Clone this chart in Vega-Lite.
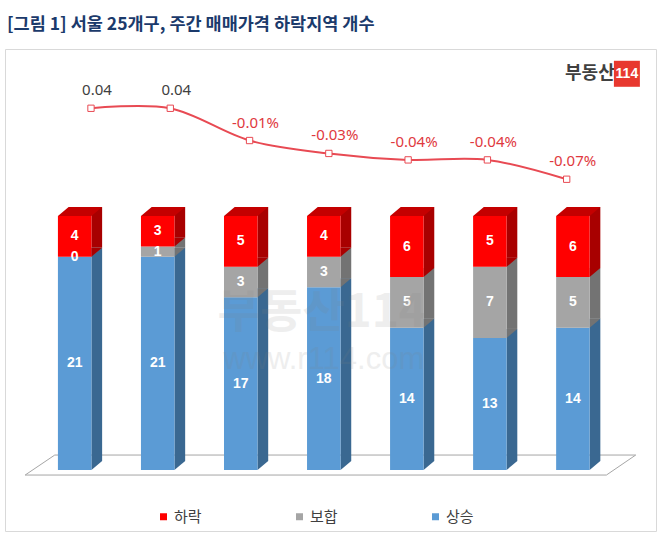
{
  "$schema": "https://vega.github.io/schema/vega-lite/v6.json",
  "width": 651,
  "height": 482,
  "autosize": {"type": "none"},
  "padding": {"left": 5, "top": 49, "right": 2, "bottom": 4},
  "background": "white",
  "config": {"view": {"stroke": "#D9D9D9", "strokeWidth": 1}, "font": "Noto Sans"},
  "title": {
    "text": "[그림 1] 서울 25개구, 주간 매매가격 하락지역 개수",
    "anchor": "start", "frame": "group", "orient": "top", "offset": 2, "dx": 2,
    "baseline": "alphabetic", "font": "Noto Sans CJK KR", "fontSize": 17.5, "fontWeight": "bold", "color": "#1B3A6B"
  },
  "datasets": {
    "counts": [
      {"date": "3/13", "series": "상승", "count": 21}, {"date": "3/13", "series": "보합", "count": 0}, {"date": "3/13", "series": "하락", "count": 4},
      {"date": "3/20", "series": "상승", "count": 21}, {"date": "3/20", "series": "보합", "count": 1}, {"date": "3/20", "series": "하락", "count": 3},
      {"date": "3/27", "series": "상승", "count": 17}, {"date": "3/27", "series": "보합", "count": 3}, {"date": "3/27", "series": "하락", "count": 5},
      {"date": "4/3", "series": "상승", "count": 18}, {"date": "4/3", "series": "보합", "count": 3}, {"date": "4/3", "series": "하락", "count": 4},
      {"date": "4/10", "series": "상승", "count": 14}, {"date": "4/10", "series": "보합", "count": 5}, {"date": "4/10", "series": "하락", "count": 6},
      {"date": "4/17", "series": "상승", "count": 13}, {"date": "4/17", "series": "보합", "count": 7}, {"date": "4/17", "series": "하락", "count": 5},
      {"date": "4/24", "series": "상승", "count": 14}, {"date": "4/24", "series": "보합", "count": 5}, {"date": "4/24", "series": "하락", "count": 6}
    ],
    "weekly": [
      {"date": "3/13", "chg": 0.04, "label": "0.04"},
      {"date": "3/20", "chg": 0.04, "label": "0.04"},
      {"date": "3/27", "chg": -0.01, "label": "-0.01%"},
      {"date": "4/3", "chg": -0.03, "label": "-0.03%"},
      {"date": "4/10", "chg": -0.04, "label": "-0.04%"},
      {"date": "4/17", "chg": -0.04, "label": "-0.04%"},
      {"date": "4/24", "chg": -0.07, "label": "-0.07%"}
    ]
  },
  "layer": [
    {
      "layer": [
        {
          "data": {"values": [{}]},
          "mark": {"type": "rule", "color": "#A6A6A6", "strokeWidth": 1, "xOffset": -41.52, "x2Offset": 41.52, "yOffset": 5},
          "encoding": {
            "x": {"datum": "3/13", "type": "nominal", "scale": {"type": "band", "domain": ["3/13", "3/20", "3/27", "4/3", "4/10", "4/17", "4/24"], "paddingInner": 0, "paddingOuter": 0.42, "align": 0.289}, "axis": null},
            "x2": {"datum": "4/24"},
            "y": {"datum": 0, "type": "quantitative", "scale": {"domain": [-6.0, 41.44], "zero": false, "nice": false}, "axis": null}
          }
        },
        {
          "data": {"values": [{}]},
          "mark": {"type": "rule", "color": "#A6A6A6", "strokeWidth": 1, "xOffset": -11.92, "x2Offset": 70.82, "yOffset": -15},
          "encoding": {
            "x": {"datum": "3/13", "type": "nominal", "axis": null},
            "x2": {"datum": "4/24"},
            "y": {"datum": 0, "type": "quantitative", "axis": null}
          }
        },
        {
          "data": {"values": [{}]},
          "mark": {"type": "rule", "color": "#A6A6A6", "strokeWidth": 1, "xOffset": -41.52, "x2Offset": -11.92, "yOffset": 5, "y2Offset": -15},
          "encoding": {
            "x": {"datum": "3/13", "type": "nominal", "axis": null},
            "x2": {"datum": "3/13"},
            "y": {"datum": 0, "type": "quantitative", "axis": null},
            "y2": {"datum": 0}
          }
        },
        {
          "data": {"values": [{}]},
          "mark": {"type": "rule", "color": "#A6A6A6", "strokeWidth": 1, "xOffset": 41.52, "x2Offset": 70.82, "yOffset": 5, "y2Offset": -15},
          "encoding": {
            "x": {"datum": "4/24", "type": "nominal", "axis": null},
            "x2": {"datum": "4/24"},
            "y": {"datum": 0, "type": "quantitative", "axis": null},
            "y2": {"datum": 0}
          }
        },
        {
          "data": {"name": "counts"},
          "transform": [
            {"calculate": "indexof(['상승','보합','하락'], datum.series)", "as": "rank"},
            {"stack": "count", "groupby": ["date"], "sort": [{"field": "rank", "order": "ascending"}], "as": ["lo", "hi"]},
            {"calculate": "(datum.lo + datum.hi) / 2", "as": "mid"}
          ],
          "layer": [
            {
              "mark": {"type": "bar", "width": 10.7, "xOffset": 30.1, "yOffset": -9, "y2Offset": -9},
              "encoding": {
                "x": {"field": "date", "type": "nominal", "axis": null},
                "y": {"field": "lo", "type": "quantitative", "axis": null},
                "y2": {"field": "hi"},
                "color": {"condition": [{"test": "datum.series === '하락'", "value": "#A80000"}, {"test": "datum.series === '보합'", "value": "#737373"}], "value": "#3A6891"}
              }
            },
            {
              "mark": {"type": "point", "shape": "M0,0L0,-0.9L1.07,-0.9Z", "size": 400, "filled": true, "opacity": 1, "strokeWidth": 0, "xOffset": 24.75},
              "encoding": {
                "x": {"field": "date", "type": "nominal", "axis": null},
                "y": {"field": "lo", "type": "quantitative", "axis": null},
                "color": {"condition": [{"test": "datum.series === '하락'", "value": "#A80000"}, {"test": "datum.series === '보합'", "value": "#737373"}], "value": "#3A6891"}
              }
            },
            {
              "mark": {"type": "bar", "width": 33.5, "xOffset": 8},
              "encoding": {
                "x": {"field": "date", "type": "nominal", "axis": {"title": null, "orient": "bottom", "offset": -56, "domain": false, "ticks": true, "tickBand": "extent", "tickSize": 6, "tickColor": "#A6A6A6", "labelFont": "Noto Sans", "labelFontSize": 13, "labelColor": "#404040", "labelPadding": 5, "labelAngle": 0, "grid": false}},
                "y": {"field": "lo", "type": "quantitative", "axis": null},
                "y2": {"field": "hi"},
                "color": {
                  "field": "series", "type": "nominal",
                  "scale": {"domain": ["하락", "보합", "상승"], "range": ["#FF0000", "#A5A5A5", "#5B9BD5"]},
                  "legend": {"title": null, "orient": "none", "legendX": 151, "legendY": 460, "direction": "horizontal", "symbolType": "square", "symbolSize": 49, "symbolStrokeWidth": 0, "labelFont": "Noto Sans CJK KR", "labelFontSize": 15, "labelColor": "#404040", "labelOffset": 3, "columnPadding": 90}
                }
              }
            },
            {
              "transform": [{"filter": "datum.series === '하락'"}],
              "mark": {"type": "point", "shape": "M-0.8375,0L0.8375,0L1.3725,-0.45L-0.3025,-0.45Z", "size": 1600, "filled": true, "opacity": 1, "strokeWidth": 0, "xOffset": 8, "color": "#C40000"},
              "encoding": {
                "x": {"field": "date", "type": "nominal", "axis": null},
                "y": {"field": "hi", "type": "quantitative", "axis": null}
              }
            },
            {
              "mark": {"type": "text", "xOffset": 8, "baseline": "middle", "align": "center", "font": "Liberation Sans", "fontWeight": "bold", "fontSize": 14, "color": "white"},
              "encoding": {
                "x": {"field": "date", "type": "nominal", "axis": null},
                "y": {"field": "mid", "type": "quantitative", "axis": null},
                "text": {"field": "count", "type": "quantitative"}
              }
            }
          ]
        },
        {
          "data": {"values": [{}]},
          "layer": [
            {
              "mark": {"type": "text", "text": "부동산114", "font": "Noto Sans CJK KR", "fontWeight": "bold", "fontSize": 46, "color": "#808080", "opacity": 0.13, "xOffset": 6, "baseline": "middle", "align": "center"},
              "encoding": {"x": {"datum": "4/3", "type": "nominal", "axis": null}, "y": {"datum": 15.5, "type": "quantitative", "axis": null}}
            },
            {
              "mark": {"type": "text", "text": "www.r114.com", "font": "Liberation Sans", "fontSize": 31, "color": "#808080", "opacity": 0.13, "xOffset": 8, "baseline": "middle", "align": "center"},
              "encoding": {"x": {"datum": "4/3", "type": "nominal", "axis": null}, "y": {"datum": 10.8, "type": "quantitative", "axis": null}}
            },
            {
              "mark": {"type": "text", "text": "부동산", "font": "Noto Sans CJK KR", "fontWeight": "bold", "fontSize": 18, "color": "#404040", "xOffset": 25, "baseline": "middle", "align": "center"},
              "encoding": {"x": {"datum": "4/24", "type": "nominal", "axis": null}, "y": {"datum": 39, "type": "quantitative", "axis": null}}
            },
            {
              "mark": {"type": "point", "shape": "square", "size": 676, "filled": true, "opacity": 1, "strokeWidth": 0, "color": "#E8382F", "xOffset": 62},
              "encoding": {"x": {"datum": "4/24", "type": "nominal", "axis": null}, "y": {"datum": 39, "type": "quantitative", "axis": null}}
            },
            {
              "mark": {"type": "text", "text": "114", "font": "Liberation Sans", "fontWeight": "bold", "fontSize": 14, "color": "white", "xOffset": 62, "baseline": "middle", "align": "center"},
              "encoding": {"x": {"datum": "4/24", "type": "nominal", "axis": null}, "y": {"datum": 39, "type": "quantitative", "axis": null}}
            }
          ]
        }
      ]
    },
    {
      "data": {"name": "weekly"},
      "encoding": {
        "x": {"field": "date", "type": "nominal", "scale": {"type": "band", "domain": ["3/13", "3/20", "3/27", "4/3", "4/10", "4/17", "4/24"], "paddingInner": 0, "paddingOuter": 0.6056, "align": 0.4827}, "axis": null},
        "y": {"field": "chg", "type": "quantitative", "scale": {"domain": [-0.6153, 0.1319], "zero": false, "nice": false}, "axis": null}
      },
      "layer": [
        {"mark": {"type": "line", "interpolate": "cardinal", "color": "#E84A53", "strokeWidth": 2}},
        {"mark": {"type": "point", "shape": "square", "size": 40, "filled": true, "fill": "white", "stroke": "#E84A53", "strokeWidth": 1, "opacity": 1}},
        {
          "mark": {"type": "text", "dx": 6, "dy": -13, "baseline": "alphabetic", "align": "center", "font": "Noto Sans", "fontSize": 15},
          "encoding": {
            "text": {"field": "label", "type": "nominal"},
            "color": {"condition": {"test": "datum.chg > 0", "value": "#404040"}, "value": "#E0393E"}
          }
        }
      ]
    }
  ],
  "resolve": {"scale": {"x": "independent", "y": "independent"}}
}
